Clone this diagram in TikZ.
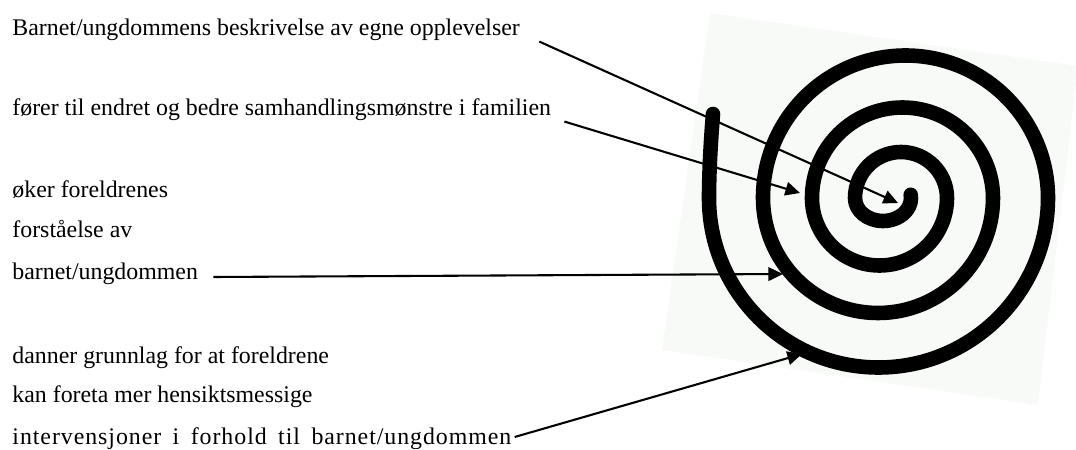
\documentclass[tikz,border=0pt]{standalone}
\usepackage{fontspec}
\setmainfont{Liberation Serif}
\usepackage{xcolor}
\usetikzlibrary{arrows.meta, positioning}

\definecolor{paper}{RGB}{248,250,247}

\begin{document}
\begin{tikzpicture}[x=0.48pt, y=-0.48pt,
        txt/.style={anchor=base west, inner sep=0pt, font=\fontsize{11.45pt}{14pt}\selectfont},
        arrow/.style={-{Triangle[length=7pt, width=6.5pt]}, line width=1pt},
        coil/.style={line width=7pt, line cap=round, line join=round}
    ]
        \useasboundingbox (0,0) rectangle (1076,450);

        % Spiral
        \fill[paper] (710,13) -- (1078,66) -- (1038,405) -- (662,350) -- cycle;
        \draw[coil] (713,114) .. controls (710,150) and (709,180) .. (709,198)
            arc[start angle=180, end angle=0, radius=169.5]
            arc[start angle=0, end angle=-180, radius=142.5]
            arc[start angle=180, end angle=0, radius=115]
            arc[start angle=0, end angle=-180, radius=90.5]
            arc[start angle=180, end angle=0, radius=67.5]
            arc[start angle=0, end angle=-180, radius=46]
            arc[start angle=180, end angle=-8, x radius=28, y radius=23];

        \coordinate (tipA) at (898,203);
        \coordinate (tipB) at (800,193);
        \coordinate (tipC) at (783,274);
        \coordinate (tipD) at (802,354);

        % Texts
        \node[txt] (descA) at (12,36) {Barnet/ungdommens beskrivelse av egne opplevelser};
        \node[txt] (descB) at (12,116) {fører til endret og bedre samhandlingsmønstre i familien};
        \node[txt] (descC1) at (12,198) {øker foreldrenes};
        \node[txt] (descC2) at (12,238) {forståelse av};
        \node[txt] (descC3) at (12,280) {barnet/ungdommen};
        \node[txt] (descD1) at (12,363) {danner grunnlag for at foreldrene};
        \node[txt] (descD2) at (12,403) {kan foreta mer hensiktsmessige};
        \node[txt] (descD3) at (12,444) {\addfontfeature{LetterSpace=4}\spaceskip=5.5pt\relax
            intervensjoner i forhold til barnet/ungdommen};

        % Arrows
        \draw[arrow] ([shift={(19,0)}]descA.south east) -- (tipA);
        \draw[arrow] ([shift={(13,0)}]descB.south east) -- (tipB);
        \draw[arrow] ([shift={(15,-3)}]descC3.base east) -- (tipC);
        \draw[arrow] ([shift={(3,-7)}]descD3.base east) -- (tipD);
\end{tikzpicture}
\end{document}
